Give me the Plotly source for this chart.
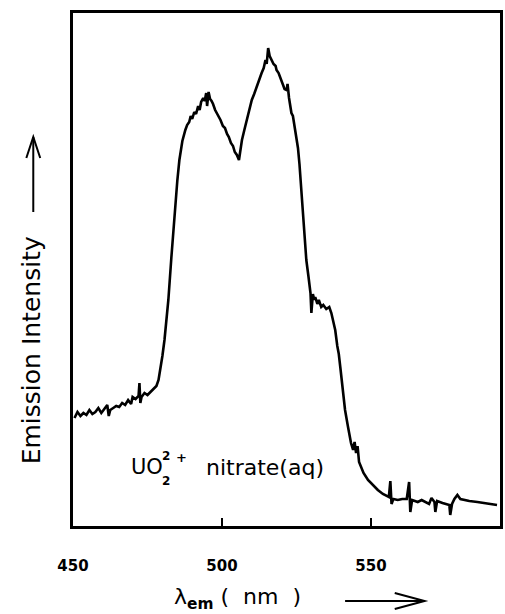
import plotly.graph_objects as go

# Emission spectrum of UO2(2+) nitrate (aq): wavelength (nm) vs intensity (arb. units)
wavelength = [
    450.5, 451.5, 452.5, 453.5, 454.5, 455.5, 456.5, 457.5, 458.5, 459.5,
    460.5, 461.5, 462.0, 462.5, 463.5, 464.5, 465.5, 466.5, 467.5, 468.5,
    469.5, 470.0, 471.0, 472.0, 472.3, 472.6, 473.0, 474.0, 475.0, 476.0,
    477.0, 478.0, 478.7, 479.3, 480.0, 480.7, 481.3, 482.0, 483.0, 484.0,
    485.0, 485.7, 486.7, 487.7, 488.3, 489.0, 489.5, 490.0, 490.7, 491.3,
    492.0, 492.5, 493.0, 493.7, 494.2, 494.7, 495.0, 495.5, 496.0, 496.5,
    497.0, 497.7, 498.5, 499.0, 499.5, 500.3, 501.0, 501.7, 502.3, 503.0,
    503.7, 504.3, 505.0, 505.7, 506.2, 506.7, 507.5, 508.3, 509.2, 510.0,
    510.8, 511.7, 512.5, 513.3, 514.0, 514.6, 515.0, 515.5, 516.0, 516.7,
    517.3, 518.0, 518.3, 519.0, 519.7, 520.3, 521.0, 521.7, 522.0, 522.5,
    523.3, 523.8, 524.2, 525.0, 525.5, 526.0, 526.3, 526.8, 527.3, 527.8,
    528.3, 529.0, 529.7, 530.0, 530.5, 531.0, 531.3, 532.0, 532.5, 533.3,
    534.0, 535.0, 536.0, 536.7, 537.3, 538.0, 538.7, 539.2, 539.7, 540.5,
    541.3, 542.3, 543.3, 544.0, 544.5, 545.0, 545.5, 546.0, 546.7, 547.5,
    549.0, 550.5, 552.3, 554.0, 556.0, 556.5, 556.9, 557.5, 559.0, 560.5,
    562.0, 562.8, 563.2, 563.8, 565.7, 567.0, 568.5, 569.5, 570.3, 571.3,
    571.6, 572.2, 574.0, 575.5, 576.3, 576.6, 577.2, 578.0, 579.0, 580.0,
    581.3, 583.0, 585.7, 588.0, 590.0, 592.3,
]
intensity = [
    108, 114, 110, 113, 111, 116, 112, 114, 118, 113,
    117, 121, 110, 116, 118, 120, 119, 123, 121, 126,
    122, 129, 127, 130, 143, 123, 129, 133, 131, 134,
    137, 140, 146, 156, 170, 186, 205, 226, 268, 309,
    345, 366, 385, 396, 401, 404, 410, 407, 414, 412,
    420, 416, 424, 428, 425, 433, 420, 434, 427, 425,
    422, 416, 412, 409, 406, 400, 398, 392, 389, 383,
    380, 374, 371, 366, 376, 386, 396, 405, 416, 426,
    432, 440, 446, 453, 458, 466, 462, 478, 470, 466,
    462, 460, 456, 453, 447, 444, 437, 436, 442, 428,
    413, 410, 402, 391, 378, 362, 349, 325, 299, 283,
    266, 250, 233, 213, 232, 226, 229, 222, 226, 219,
    221, 217, 219, 213, 206, 196, 180, 172, 159, 137,
    116, 99, 83, 76, 84, 73, 80, 64, 59, 53,
    46, 41, 36, 32, 29, 45, 22, 27, 26, 27,
    27, 44, 14, 26, 24, 26, 24, 22, 28, 24,
    14, 25, 23, 22, 21, 11, 22, 27, 31, 27,
    26, 25, 24, 23, 22, 21,
]

tick_vals = [450, 500, 550]
tick_text = ["450", "500", "550"]

W, H = 505, 614
L, R, T, B = 73, 2, 13, 88
PW, PH = W - L - R, H - T - B


def px(x):
    return (x - L) / PW


def py(y):
    return (H - B - y) / PH


fig = go.Figure()
fig.add_trace(go.Scatter(
    x=wavelength, y=intensity, mode="lines",
    line=dict(color="black", width=2.6),
    hoverinfo="skip", showlegend=False,
))

fig.update_layout(
    width=W, height=H,
    margin=dict(l=L, r=R, t=T, b=B),
    paper_bgcolor="white", plot_bgcolor="white",
    showlegend=False,
    xaxis=dict(
        range=[450, 593.3], showgrid=False, zeroline=False,
        showline=True, mirror=True, linecolor="black", linewidth=2.5,
        ticks="inside", ticklen=8, tickwidth=2, tickcolor="black",
        tickvals=tick_vals, ticktext=tick_text,
        tickfont=dict(family="DejaVu Sans", size=15, color="black", weight="bold"),
        ticklabelstandoff=24,
    ),
    yaxis=dict(
        range=[0, 513], showgrid=False, zeroline=False,
        showline=True, mirror=True, linecolor="black", linewidth=2.5,
        showticklabels=False, ticks="",
    ),
)

font_main = dict(family="DejaVu Sans", color="black")

annotations = [
    # y-axis title
    dict(text="Emission Intensity", x=px(31), y=py(350), textangle=-90,
         font=dict(size=25, **font_main)),
    # x-axis title
    dict(text="λ<sub><b>em</b></sub> (  nm  )", x=px(173), y=py(598),
         xanchor="left", font=dict(size=22, **font_main)),
    # in-plot label
    dict(text="UO", x=px(129), y=py(467), xanchor="left",
         font=dict(size=21, **font_main)),
    dict(text="<b>2</b>", x=px(161), y=py(481), xanchor="left",
         font=dict(size=12, **font_main)),
    dict(text="<b>2</b>", x=px(161), y=py(456), xanchor="left",
         font=dict(size=12, **font_main)),
    dict(text="<b>+</b>", x=px(175), y=py(457), xanchor="left",
         font=dict(size=13, **font_main)),
    dict(text="nitrate(aq)", x=px(205), y=py(467), xanchor="left",
         font=dict(size=22, **font_main)),
]
for a in annotations:
    a.update(xref="paper", yref="paper", showarrow=False, yanchor="middle")
    a.setdefault("xanchor", "center")
fig.update_layout(annotations=annotations)

line_style = dict(color="black", width=2)
shapes = [
    # y-title arrow (pointing up)
    dict(type="line", x0=px(33), x1=px(33), y0=py(212), y1=py(137)),
    dict(type="path", path=f"M {px(26)},{py(158)} L {px(33)},{py(137)} L {px(40)},{py(158)}"),
    # x-title arrow (pointing right)
    dict(type="line", x0=px(347), x1=px(427), y0=py(601), y1=py(601)),
    dict(type="path", path=f"M {px(397)},{py(593)} L {px(427)},{py(601)} L {px(397)},{py(609)}"),
]
for s in shapes:
    s.update(xref="paper", yref="paper", line=line_style)
fig.update_layout(shapes=shapes)

fig.write_html("out.html")
